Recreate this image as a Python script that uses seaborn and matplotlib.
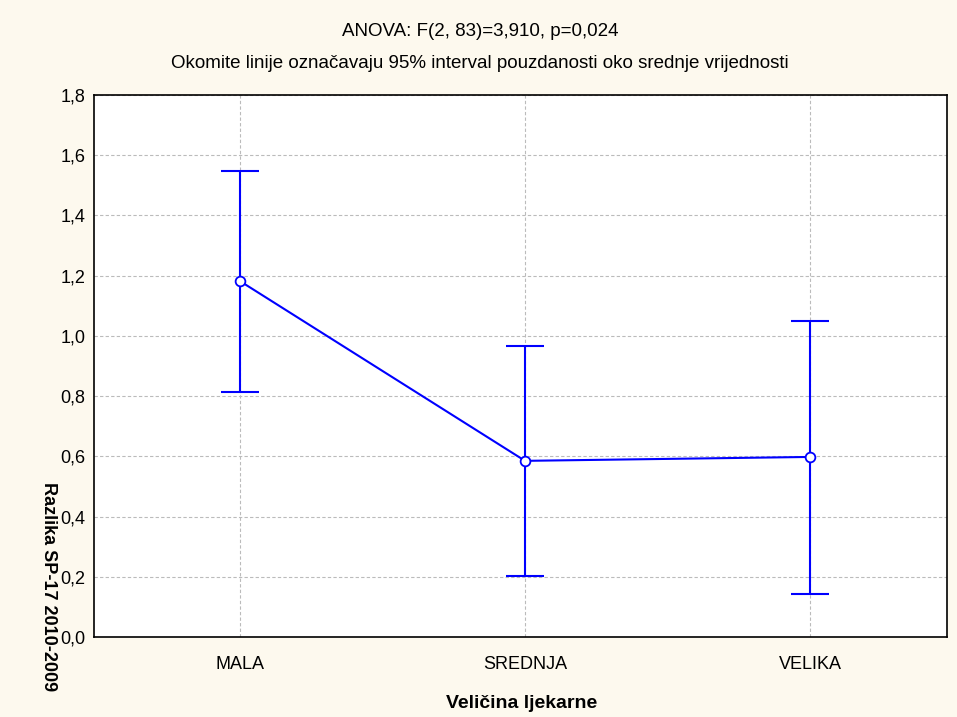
import numpy as np
import pandas as pd
import matplotlib
matplotlib.use("Agg")
import matplotlib.pyplot as plt
import seaborn as sns
from matplotlib.ticker import FuncFormatter

# Data
categories = ["MALA", "SREDNJA", "VELIKA"]
means = [1.182, 0.585, 0.598]
ci_low = [0.814, 0.203, 0.143]
ci_high = [1.548, 0.966, 1.049]

title_line1 = "ANOVA: F(2, 83)=3,910, p=0,024"
title_line2 = "Okomite linije označavaju 95% interval pouzdanosti oko srednje vrijednosti"

sns.set_style("white")
plt.rcParams["font.family"] = ["Liberation Sans", "DejaVu Sans"]
plt.rcParams["text.color"] = "black"

blue = "#0000FF"
bg = "#FDF9EE"

df = pd.DataFrame({"pos": np.arange(len(categories)), "mean": means,
                   "lo": ci_low, "hi": ci_high})

fig = plt.figure(figsize=(9.57, 7.17), dpi=100, facecolor=bg)
ax = fig.add_axes([94 / 957, 1 - 637 / 717, (947 - 94) / 957, (637 - 95) / 717])
ax.set_facecolor("white")

# confidence intervals
yerr = np.vstack([df["mean"] - df["lo"], df["hi"] - df["mean"]])
ax.errorbar(df["pos"], df["mean"], yerr=yerr, fmt="none", ecolor=blue,
            elinewidth=1.5, capsize=14, capthick=1.5, zorder=3)

# mean line with markers
sns.lineplot(data=df, x="pos", y="mean", ax=ax, color=blue, linewidth=1.5,
             marker="o", markersize=7, markerfacecolor="white",
             markeredgecolor=blue, markeredgewidth=1.3, zorder=4)

ax.set_xlim(-0.512, 2.48)
ax.set_ylim(0, 1.8)
ax.set_xticks(df["pos"])
ax.set_xticklabels(categories)
ax.set_yticks(np.arange(0, 1.81, 0.2))
ax.yaxis.set_major_formatter(FuncFormatter(lambda v, p: f"{v:.1f}".replace(".", ",")))
ax.tick_params(axis="both", direction="in", length=4, width=1, labelsize=13,
               colors="black", labelcolor="black", pad=6)
ax.tick_params(axis="x", pad=14)

ax.grid(True, color="#BBBBBB", linestyle=(0, (3, 2)), linewidth=0.8)
ax.set_axisbelow(True)
for s in ax.spines.values():
    s.set_color("black")
    s.set_linewidth(1.2)

ax.set_xlabel("")
ax.set_ylabel("")

fig.text(480 / 957, 1 - 31 / 717, title_line1, ha="center", va="center", fontsize=13.5)
fig.text(480 / 957, 1 - 64 / 717, title_line2, ha="center", va="center", fontsize=13.5)
fig.text(522 / 957, 1 - 704 / 717, "Veličina ljekarne", ha="center", va="center",
         fontsize=14, fontweight="bold")
fig.text(48 / 957, 1 - 482 / 717, "Razlika SP-17 2010-2009", ha="center", va="top",
         rotation=270, fontsize=13, fontweight="bold")

fig.savefig("out.png", dpi=100, facecolor=bg)
